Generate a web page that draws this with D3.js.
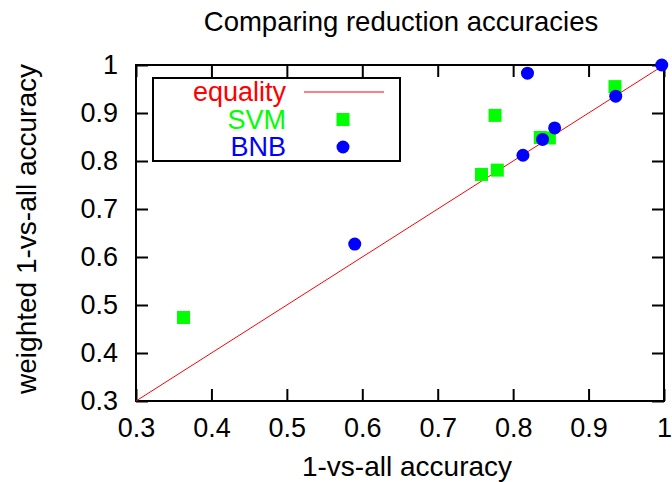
<!DOCTYPE html>
<html>
<head>
<meta charset="utf-8">
<script src="https://cdn.jsdelivr.net/npm/d3@7"></script>
<style>
  body { margin: 0; background: #fff; }
  text { font-family: "Liberation Sans", Arial, sans-serif; }
</style>
</head>
<body>
<svg id="chart" width="672" height="482"></svg>
<script>
// values
const xTicks = [0.3, 0.4, 0.5, 0.6, 0.7, 0.8, 0.9, 1];
const yTicks = [0.3, 0.4, 0.5, 0.6, 0.7, 0.8, 0.9, 1];
const svmX = [0.363, 0.758, 0.779, 0.776, 0.836, 0.848, 0.935];
const svmY = [0.474, 0.772, 0.781, 0.895, 0.849, 0.848, 0.955];
const bnbX = [0.590, 0.813, 0.839, 0.855, 0.819, 0.936, 0.997];
const bnbY = [0.627, 0.812, 0.845, 0.869, 0.983, 0.935, 1.0];
const equalityLine = [0.3, 1];

const svg = d3.select("#chart");
const margin = { top: 65, right: 8, bottom: 81, left: 136 };
const width = 672 - margin.left - margin.right,
    height = 482 - margin.top - margin.bottom;

const x = d3.scaleLinear().domain([0.3, 1]).range([0, width]);
const y = d3.scaleLinear().domain([0.3, 1]).range([height, 0]);
const fmt = d => d === 1 ? "1" : d3.format(".1f")(d);

const g = svg.append("g").attr("transform", `translate(${margin.left},${margin.top})`);

// axes with inward ticks on all four sides
g.append("g").attr("transform", `translate(0,${height})`)
    .call(d3.axisBottom(x).tickValues(xTicks).tickSize(-12).tickPadding(17).tickFormat(fmt));
g.append("g")
    .call(d3.axisLeft(y).tickValues(yTicks).tickSize(-12).tickPadding(18).tickFormat(fmt));
g.append("g")
    .call(d3.axisTop(x).tickValues(xTicks).tickSize(-12).tickFormat(""));
g.append("g").attr("transform", `translate(${width},0)`)
    .call(d3.axisRight(y).tickValues(yTicks).tickSize(-12).tickFormat(""));

g.selectAll(".domain").remove();
g.selectAll(".tick line").attr("stroke", "#000").attr("stroke-width", 2);
g.selectAll(".tick text").attr("font-size", 27).attr("fill", "#000")
    .attr("font-family", "Liberation Sans, Arial, sans-serif");

g.append("rect")
    .attr("width", width).attr("height", height)
    .attr("fill", "none").attr("stroke", "#000").attr("stroke-width", 2);

// equality line
g.append("line")
    .attr("x1", x(equalityLine[0])).attr("y1", y(equalityLine[0]))
    .attr("x2", x(equalityLine[1])).attr("y2", y(equalityLine[1]))
    .attr("stroke", "#ff0000").attr("stroke-width", 1);

// SVM squares
const sq = 13;
g.selectAll(".svm")
    .data(svmX.map((d, i) => [d, svmY[i]]))
    .enter().append("rect")
    .attr("class", "svm")
    .attr("x", d => x(d[0]) - sq / 2)
    .attr("y", d => y(d[1]) - sq / 2)
    .attr("width", sq).attr("height", sq)
    .attr("fill", "#00ff00");

// BNB circles
g.selectAll(".bnb")
    .data(bnbX.map((d, i) => [d, bnbY[i]]))
    .enter().append("circle")
    .attr("class", "bnb")
    .attr("cx", d => x(d[0]))
    .attr("cy", d => y(d[1]))
    .attr("r", 6.5)
    .attr("fill", "#0000ff");

// legend
const legend = svg.append("g");
legend.append("rect")
    .attr("x", 153).attr("y", 78).attr("width", 247).attr("height", 83)
    .attr("fill", "#fff").attr("stroke", "#000").attr("stroke-width", 2);

const items = [
    { name: "equality", color: "#ff0000", type: "line" },
    { name: "SVM", color: "#00ff00", type: "square" },
    { name: "BNB", color: "#0000ff", type: "circle" }
];
items.forEach((it, i) => {
    const cy = 92 + i * 27.5;
    legend.append("text")
        .attr("x", 286).attr("y", cy).attr("dy", "0.35em")
        .attr("text-anchor", "end")
        .attr("font-size", 27)
        .attr("fill", it.color)
        .text(it.name);
    if (it.type === "line") {
        legend.append("line")
            .attr("x1", 304).attr("x2", 384).attr("y1", cy).attr("y2", cy)
            .attr("stroke", it.color).attr("stroke-width", 1);
    } else if (it.type === "square") {
        legend.append("rect")
            .attr("x", 343 - sq / 2).attr("y", cy - sq / 2)
            .attr("width", sq).attr("height", sq).attr("fill", it.color);
    } else {
        legend.append("circle")
            .attr("cx", 343).attr("cy", cy).attr("r", 6.5).attr("fill", it.color);
    }
});

// titles
svg.append("text")
    .attr("x", 401).attr("y", 31)
    .attr("text-anchor", "middle").attr("font-size", 27.5)
    .text("Comparing reduction accuracies");
svg.append("text")
    .attr("x", 407).attr("y", 476)
    .attr("text-anchor", "middle").attr("font-size", 28)
    .text("1-vs-all accuracy");
svg.append("text")
    .attr("transform", `translate(36,${margin.top + height / 2 - 4}) rotate(-90)`)
    .attr("text-anchor", "middle").attr("font-size", 28)
    .text("weighted 1-vs-all accuracy");
</script>
</body>
</html>
